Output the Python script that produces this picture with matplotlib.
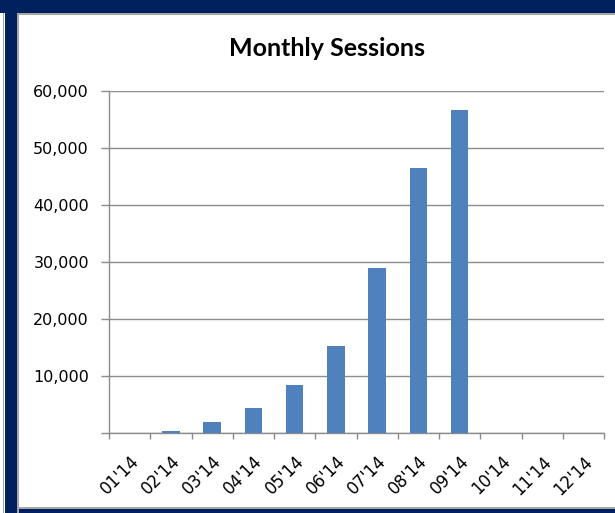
import matplotlib
matplotlib.use("Agg")
import matplotlib.pyplot as plt
from matplotlib.patches import Rectangle
from matplotlib.transforms import ScaledTranslation
import numpy as np

# dados
meses = ["01'14", "02'14", "03'14", "04'14", "05'14", "06'14",
         "07'14", "08'14", "09'14", "10'14", "11'14", "12'14"]
sessoes = [0, 350, 1900, 4400, 8500, 15300, 28900, 46500, 56600, 0, 0, 0]
y_ticks = [0, 10000, 20000, 30000, 40000, 50000, 60000]

W, H = 615, 513
fig = plt.figure(figsize=(W / 100, H / 100), dpi=100)
fig.patch.set_facecolor("white")

navy = "#00215e"
cinza = "#a6a6a6"


def ret(x0, y0, x1, y1, cor):
    # retangulo em pixels (origem no canto superior esquerdo)
    fig.add_artist(Rectangle((x0 / W, 1 - y1 / H), (x1 - x0) / W, (y1 - y0) / H,
                             transform=fig.transFigure, facecolor=cor,
                             edgecolor="none", zorder=5))


# moldura
ret(0, 0, W, 13, navy)
ret(17, 13, W, 15, cinza)
ret(3, 13, 4, H, cinza)
ret(5, 13, 17, H, navy)
ret(17, 15, 19, H, cinza)
ret(19, 507, W, 509, cinza)
ret(19, 509, W, H, navy)

ax = fig.add_axes([109 / W, 1 - 433 / H, (604 - 109) / W, (433 - 91) / H])

x = np.arange(len(meses))
ax.bar(x, sessoes, width=0.42, color="#4f81bd", zorder=3)

ax.set_xlim(-0.5, len(meses) - 0.5)
ax.set_ylim(0, 60000)
ax.set_yticks(y_ticks)
ax.set_yticklabels([""] + [f"{v:,}" for v in y_ticks[1:]])
ax.yaxis.grid(True, color="#8c8c8c", linewidth=1.0, zorder=0)
ax.set_axisbelow(True)

# ticks do eixo x ficam entre as categorias
ax.set_xticks(np.arange(len(meses) + 1) - 0.5)
ax.set_xticklabels([])
ax.set_xticks(x, minor=True)
ax.set_xticklabels(meses, minor=True, rotation=45, ha="right", va="top",
                   rotation_mode="anchor", fontsize=12)
desloc = ScaledTranslation(-9 / 100, 0, fig.dpi_scale_trans)
for lab in ax.get_xticklabels(minor=True):
    lab.set_transform(lab.get_transform() + desloc)
ax.tick_params(axis="x", which="minor", length=0, pad=14)
ax.tick_params(axis="x", which="major", length=4.3, width=1, color="#8c8c8c")
ax.tick_params(axis="y", length=5.8, width=1, color="#8c8c8c", labelsize=11.5, pad=8.6)

for lado in ["top", "right"]:
    ax.spines[lado].set_visible(False)
for lado in ["left", "bottom"]:
    ax.spines[lado].set_color("#8c8c8c")
    ax.spines[lado].set_linewidth(1.0)

fig.text(327 / W, 1 - 48 / H, "Monthly Sessions", ha="center", va="center",
         fontsize=18, fontweight="bold", family="Lato")

plt.savefig("out.png", dpi=100)
plt.close()
